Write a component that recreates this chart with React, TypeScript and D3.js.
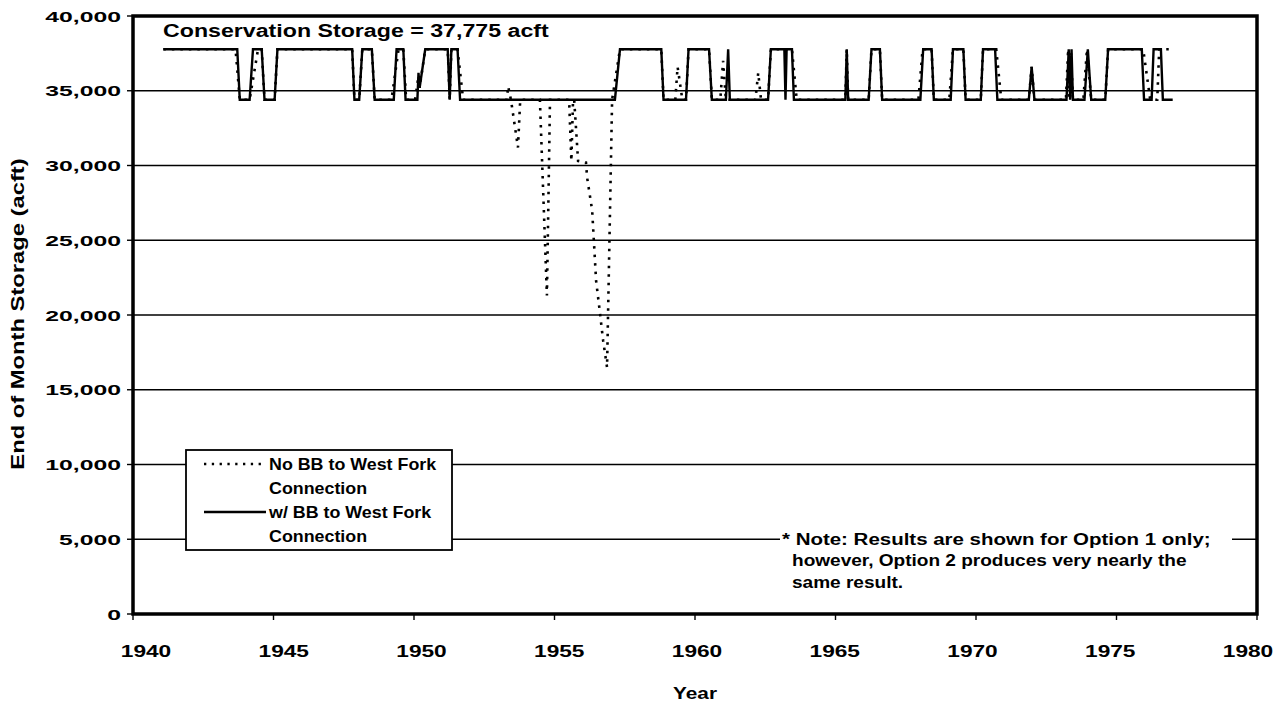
import React from "react";
import * as d3 from "d3";

// ---------- data ----------
const YEAR_TICKS = [1940, 1945, 1950, 1955, 1960, 1965, 1970, 1975, 1980];
const STORAGE_TICKS = [0, 5000, 10000, 15000, 20000, 25000, 30000, 35000, 40000];

const CHART_TITLE = "Conservation Storage = 37,775 acft";
const X_TITLE = "Year";
const Y_TITLE = "End of Month Storage (acft)";
const LEGEND_NO_BB = ["No BB to West Fork", "Connection"];
const LEGEND_WITH_BB = ["w/ BB to West Fork", "Connection"];
const NOTE_LINES = [
  "* Note: Results are shown for Option 1 only;",
  "however, Option 2 produces very nearly the",
  "same result.",
];

// w/ BB to West Fork Connection (solid) – [year, acft]
const withBB: [number, number][] = [
  [1941.08, 37775], [1943.71, 37775], [1943.8, 34400], [1944.15, 34400], [1944.27, 37775],
  [1944.58, 37775], [1944.68, 34400], [1945.04, 34400], [1945.14, 37775], [1947.8, 37775],
  [1947.88, 34400], [1948.05, 34400], [1948.16, 37775], [1948.5, 37775], [1948.6, 34400],
  [1949.28, 34400], [1949.38, 37775], [1949.62, 37775], [1949.7, 34400], [1950.04, 34400],
  [1950.12, 34400], [1950.16, 36200], [1950.2, 35200], [1950.4, 37775], [1951.2, 37775],
  [1951.27, 34400], [1951.33, 37775], [1951.55, 37775], [1951.64, 34400], [1957.15, 34400],
  [1957.33, 37775], [1958.8, 37775], [1958.88, 34400], [1959.68, 34400], [1959.77, 37775],
  [1960.5, 37775], [1960.6, 34400], [1961.1, 34400], [1961.18, 37775], [1961.24, 34400],
  [1962.6, 34400], [1962.7, 37775], [1963.18, 37775], [1963.22, 34400], [1963.26, 37775],
  [1963.45, 37775], [1963.52, 34400], [1965.35, 34400], [1965.4, 37775], [1965.45, 34400],
  [1966.18, 34400], [1966.28, 37775], [1966.58, 37775], [1966.66, 34400], [1968.02, 34400],
  [1968.12, 37775], [1968.42, 37775], [1968.5, 34400], [1969.1, 34400], [1969.18, 37775],
  [1969.55, 37775], [1969.63, 34400], [1970.17, 34400], [1970.25, 37775], [1970.68, 37775],
  [1970.76, 34400], [1971.88, 34400], [1971.98, 36600], [1972.08, 34400], [1973.22, 34400],
  [1973.3, 37775], [1973.35, 34400], [1973.4, 37775], [1973.45, 34400], [1973.86, 34400],
  [1973.98, 37775], [1974.1, 34400], [1974.6, 34400], [1974.7, 37775], [1975.9, 37775],
  [1975.98, 34400], [1976.25, 34400], [1976.32, 37775], [1976.58, 37775], [1976.65, 34400],
  [1977.0, 34400],
];

// No BB to West Fork Connection (dotted) – [year, acft]
const noBB: [number, number][] = [
  [1941.08, 37775], [1943.65, 37775], [1943.8, 34400], [1944.15, 34400], [1944.45, 37775],
  [1944.58, 37775], [1944.68, 34400], [1945.04, 34400], [1945.14, 37775], [1947.8, 37775],
  [1947.88, 34400], [1948.05, 34400], [1948.16, 37775], [1948.5, 37775], [1948.6, 34400],
  [1949.2, 34400], [1949.45, 37775], [1949.62, 37775], [1949.72, 34400], [1950.04, 34400],
  [1950.16, 36000], [1950.2, 35200], [1950.4, 37775], [1951.2, 37775], [1951.27, 34400],
  [1951.33, 37775], [1951.55, 37775], [1951.75, 34400], [1953.3, 34400], [1953.35, 35300],
  [1953.45, 34400], [1953.7, 31200], [1953.78, 34400], [1954.48, 34400], [1954.73, 21300],
  [1954.84, 34400], [1955.52, 34400], [1955.6, 30300], [1955.66, 34400], [1955.7, 34400],
  [1955.84, 30300], [1956.12, 30200], [1956.16, 29200], [1956.34, 27000], [1956.48, 22300],
  [1956.62, 20100], [1956.73, 18300], [1956.87, 16500], [1957.05, 34400], [1957.33, 37775],
  [1958.8, 37775], [1958.88, 34400], [1959.3, 34400], [1959.38, 36600], [1959.55, 34400],
  [1959.68, 34400], [1959.77, 37775], [1960.5, 37775], [1960.6, 34400], [1960.9, 34400],
  [1961.0, 37000], [1961.1, 34400], [1962.15, 34400], [1962.25, 36200], [1962.35, 34400],
  [1962.6, 34400], [1962.7, 37775], [1963.45, 37775], [1963.62, 34400], [1965.35, 34400],
  [1965.4, 37775], [1965.45, 34400], [1966.18, 34400], [1966.28, 37775], [1966.58, 37775],
  [1966.66, 34400], [1967.95, 34400], [1968.1, 37775], [1968.42, 37775], [1968.5, 34400],
  [1969.05, 34400], [1969.18, 37775], [1969.55, 37775], [1969.63, 34400], [1970.17, 34400],
  [1970.25, 37775], [1970.72, 37775], [1970.9, 34400], [1971.88, 34400], [1971.98, 36600],
  [1972.08, 34400], [1973.2, 34400], [1973.28, 37775], [1973.32, 34400], [1973.38, 37500],
  [1973.45, 34400], [1973.82, 34400], [1973.95, 37775], [1974.1, 34400], [1974.6, 34400],
  [1974.7, 37775], [1975.95, 37775], [1976.2, 34400], [1976.45, 34400], [1976.52, 37775],
  [1977.0, 37775],
];

// ---------- layout ----------
const W = 1282;
const H = 704;
const M = { left: 133, right: 1257, top: 16, bottom: 614 };
const FONT = "'Liberation Sans', Arial, sans-serif";

type TProps = {
  x: number; y: number; size: number; sx?: number; anchor?: string; rotate?: number;
  children: React.ReactNode;
};
function T({ x, y, size, sx = 1, anchor = "start", rotate = 0, children }: TProps) {
  return (
    <text
      transform={`translate(${x},${y}) rotate(${rotate}) scale(${sx},1)`}
      textAnchor={anchor}
      fontSize={size}
      fontWeight="bold"
      fontFamily={FONT}
      fill="#000"
    >
      {children}
    </text>
  );
}

export default function App() {
  const x = d3.scaleLinear().domain([1940, 1980]).range([M.left, M.right]);
  const xLabel = d3.scaleLinear().domain([1940, 1980]).range([146, 1248]);
  const y = d3.scaleLinear().domain([0, 40000]).range([M.bottom, M.top]);
  const line = d3
    .line<[number, number]>()
    .x((d) => x(d[0]))
    .y((d) => y(d[1]));
  const fmt = d3.format(",");

  const legend = { x: 186, y: 450, w: 266, h: 100 };
  const note = { x: 780, y: 528, w: 452, h: 84 };
  const legendFont = 17;
  const legendSx = 1.05;
  const rows = [464, 488, 512, 536];

  return (
    <svg
      width={W}
      height={H}
      style={{ position: "fixed", left: 0, top: 0, background: "#fff" }}
    >
      <rect x={0} y={0} width={W} height={H} fill="#fff" />
      {/* gridlines */}
      {STORAGE_TICKS.filter((t) => t > 0 && t < 40000).map((t) => (
        <line key={t} x1={M.left} x2={M.right} y1={y(t)} y2={y(t)} stroke="#000" strokeWidth={1.4} />
      ))}
      {/* y ticks & labels */}
      {STORAGE_TICKS.map((t) => (
        <g key={"y" + t}>
          <line x1={M.left - 6} x2={M.left} y1={y(t)} y2={y(t)} stroke="#000" strokeWidth={1.4} />
          <T x={121} y={y(t) + 5.5} size={15} sx={1.65} anchor="end">
            {fmt(t)}
          </T>
        </g>
      ))}
      {/* x ticks & labels */}
      {YEAR_TICKS.map((t) => (
        <g key={"x" + t}>
          <line x1={x(t)} x2={x(t)} y1={M.bottom} y2={M.bottom + 6} stroke="#000" strokeWidth={1.4} />
          <T x={xLabel(t)} y={657} size={16} sx={1.42} anchor="middle">
            {t}
          </T>
        </g>
      ))}

      {/* series */}
      <path d={line(noBB) || ""} fill="none" stroke="#000" strokeWidth={2.6} strokeDasharray="2.5 6" />
      <path d={line(withBB) || ""} fill="none" stroke="#000" strokeWidth={2.4} strokeLinejoin="miter" />

      {/* chart title */}
      <T x={163} y={37} size={19} sx={1.22}>
        {CHART_TITLE}
      </T>

      {/* legend */}
      <rect x={legend.x} y={legend.y} width={legend.w} height={legend.h} fill="#fff" stroke="#000" strokeWidth={1.8} />
      <line x1={204} x2={266} y1={rows[0]} y2={rows[0]} stroke="#000" strokeWidth={2.3} strokeDasharray="2.3 5.5" />
      <T x={269} y={rows[0] + 6} size={legendFont} sx={legendSx}>{LEGEND_NO_BB[0]}</T>
      <T x={269} y={rows[1] + 6} size={legendFont} sx={legendSx}>{LEGEND_NO_BB[1]}</T>
      <line x1={204} x2={266} y1={rows[2]} y2={rows[2]} stroke="#000" strokeWidth={2.3} />
      <T x={269} y={rows[2] + 6} size={legendFont} sx={legendSx}>{LEGEND_WITH_BB[0]}</T>
      <T x={269} y={rows[3] + 6} size={legendFont} sx={legendSx}>{LEGEND_WITH_BB[1]}</T>

      {/* note */}
      <rect x={note.x} y={note.y} width={note.w} height={note.h} fill="#fff" />
      <T x={782} y={545} size={16} sx={1.28}>{NOTE_LINES[0]}</T>
      <T x={792} y={566} size={16} sx={1.19}>{NOTE_LINES[1]}</T>
      <T x={792} y={588} size={16} sx={1.19}>{NOTE_LINES[2]}</T>

      {/* frame */}
      <rect
        x={M.left}
        y={M.top}
        width={M.right - M.left}
        height={M.bottom - M.top}
        fill="none"
        stroke="#000"
        strokeWidth={3.5}
      />

      {/* axis titles */}
      <T x={(M.left + M.right) / 2} y={699} size={16} sx={1.3} anchor="middle">
        {X_TITLE}
      </T>
      <T x={24} y={314} size={19} sx={1.25} anchor="middle" rotate={-90}>
        {Y_TITLE}
      </T>
    </svg>
  );
}
